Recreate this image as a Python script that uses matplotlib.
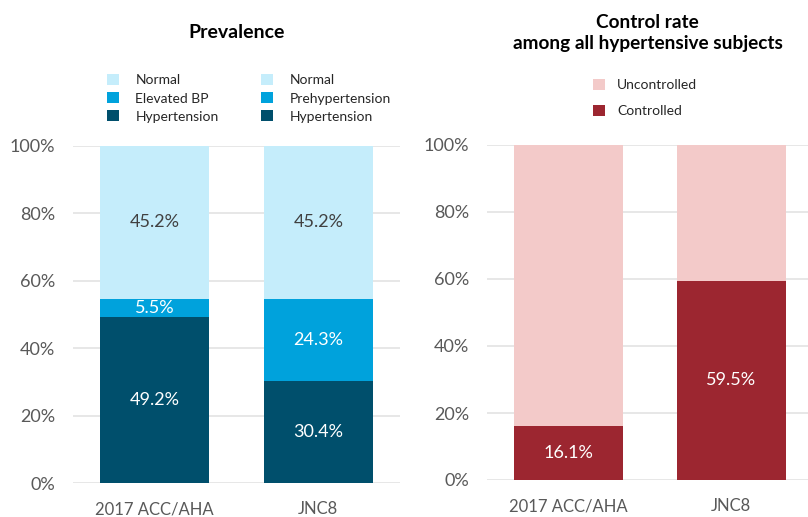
import numpy as np
import matplotlib
matplotlib.use("Agg")
import matplotlib.pyplot as plt

plt.rcParams['font.family'] = ['Lato', 'DejaVu Sans']

categories = ['2017 ACC/AHA', 'JNC8']

# prevalence (%) per guideline
hypertension = [49.2, 30.4]
middle = [5.5, 24.3]          # elevated BP / prehypertension
normal = [45.2, 45.2]
middle_names = ['Elevated BP', 'Prehypertension']

# control rate among hypertensive subjects (%)
controlled = [16.1, 59.5]
uncontrolled = [83.9, 40.5]

c_normal = '#C5EDFB'
c_mid = '#00A2DC'
c_hyp = '#004F6C'
c_ctrl = '#9C2630'
c_unctrl = '#F3CAC9'
grid_c = '#E3E3E3'
tick_c = '#595959'
lab_c = '#404040'

W, H = 808, 517
fig = plt.figure(figsize=(W / 100, H / 100), dpi=100)

def px_axes(x0, y0, x1, y1):
    return fig.add_axes([x0 / W, 1 - y1 / H, (x1 - x0) / W, (y1 - y0) / H])

ax1 = px_axes(73, 146, 400, 483)
ax2 = px_axes(487, 145, 808, 480)

bw = 0.665
x = np.arange(len(categories))

def style(ax, xmax):
    ax.set_ylim(0, 100)
    ax.set_xlim(-0.5, xmax)
    ax.set_yticks(np.arange(0, 101, 20))
    ax.set_yticklabels([f'{v}%' for v in range(0, 101, 20)])
    ax.set_xticks(x)
    ax.set_xticklabels(categories)
    for s in ax.spines.values():
        s.set_visible(False)
    ax.tick_params(length=0, colors=tick_c)
    ax.tick_params(axis='y', pad=13, labelsize=13)
    ax.tick_params(axis='x', pad=13, labelsize=12)
    ax.grid(axis='y', color=grid_c, linewidth=1.2)
    ax.set_axisbelow(True)

style(ax1, 1.5)
style(ax2, 1.47)

# left: stacked prevalence, one set of handles per guideline
legend_sets = []
for i in range(len(categories)):
    b_h = ax1.bar(x[i], hypertension[i], bw, color=c_hyp, label='Hypertension')
    b_m = ax1.bar(x[i], middle[i], bw, bottom=hypertension[i], color=c_mid,
                  label=middle_names[i])
    b_n = ax1.bar(x[i], normal[i], bw, bottom=hypertension[i] + middle[i],
                  color=c_normal, label='Normal')
    legend_sets.append([b_n, b_m, b_h])
    ax1.text(x[i], hypertension[i] / 2, f'{hypertension[i]}%', ha='center',
             va='center', color='white', fontsize=13)
    ax1.text(x[i], hypertension[i] + middle[i] / 2, f'{middle[i]}%', ha='center',
             va='center', color='white', fontsize=13)
    ax1.text(x[i], hypertension[i] + middle[i] + normal[i] / 2, f'{normal[i]}%',
             ha='center', va='center', color=lab_c, fontsize=13)

for k, (hs, xpos) in enumerate(zip(legend_sets, [107, 261])):
    leg = fig.legend(handles=hs, labels=[h.get_label() for h in hs],
                     loc='upper left', bbox_to_anchor=(xpos / W, 1 - 74 / H),
                     frameon=False, fontsize=10, handlelength=0.85,
                     handleheight=0.85, handletextpad=1.2, labelspacing=0.42,
                     borderpad=0, borderaxespad=0)
    for t in leg.get_texts():
        t.set_color('#262626')

# right: control rate
b_c = ax2.bar(x, controlled, bw, color=c_ctrl, label='Controlled')
b_u = ax2.bar(x, uncontrolled, bw, bottom=controlled, color=c_unctrl,
              label='Uncontrolled')
for i in range(len(categories)):
    ax2.text(x[i], controlled[i] / 2, f'{controlled[i]}%', ha='center',
             va='center', color='white', fontsize=13)

leg2 = fig.legend(handles=[b_u, b_c], labels=['Uncontrolled', 'Controlled'],
                  loc='upper left', bbox_to_anchor=(593 / W, 1 - 79 / H),
                  frameon=False, fontsize=10, handlelength=0.85,
                  handleheight=0.85, handletextpad=0.9, labelspacing=0.95,
                  borderpad=0, borderaxespad=0)
for t in leg2.get_texts():
    t.set_color('#262626')

fig.text(237 / W, 1 - 32 / H, 'Prevalence', ha='center', va='center',
         fontsize=14, fontweight='bold')
fig.text(647.5 / W, 1 - 33 / H, 'Control rate\namong all hypertensive subjects',
         ha='center', va='center', fontsize=13.7, fontweight='bold',
         linespacing=1.35)

fig.savefig('out.png', dpi=100)
